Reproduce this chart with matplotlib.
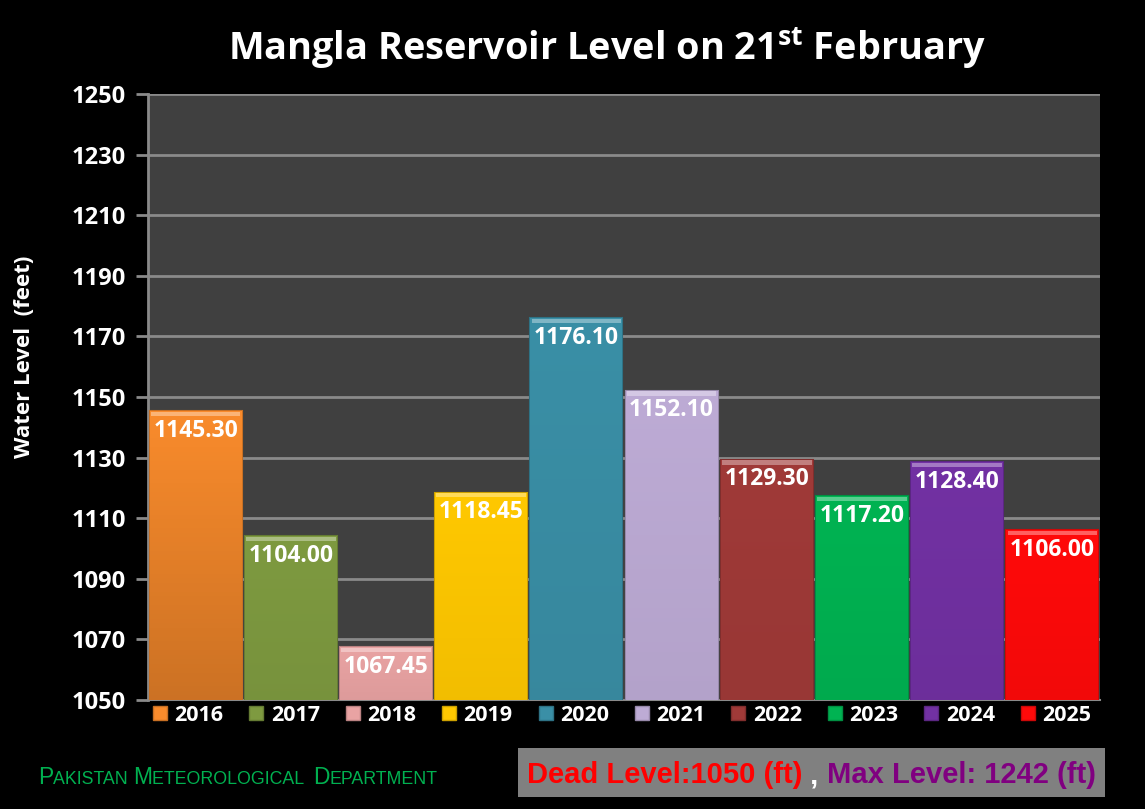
import numpy as np
import matplotlib
matplotlib.use('Agg')
import matplotlib.pyplot as plt
from matplotlib.colors import to_rgb
from matplotlib.patches import Patch, Rectangle

# data
years = ['2016', '2017', '2018', '2019', '2020', '2021', '2022', '2023', '2024', '2025']
levels = [1145.30, 1104.00, 1067.45, 1118.45, 1176.10, 1152.10, 1129.30, 1117.20, 1128.40, 1106.00]
colors = ['#F98B2C', '#7E9A40', '#E9A3A3', '#FFC800', '#3A8FA6',
          '#BDABD5', '#A03A38', '#00B352', '#7231A3', '#FF0A0A']
yticks = list(range(1050, 1251, 20))
floor = 1050

plt.rcParams['font.family'] = ['Open Sans', 'DejaVu Sans']
plt.rcParams['mathtext.fontset'] = 'custom'
plt.rcParams['mathtext.bf'] = 'Open Sans:bold'
plt.rcParams['mathtext.rm'] = 'Open Sans'


def shade(c, f):
    r = np.array(to_rgb(c))
    if f < 1:
        return tuple(r * f)
    return tuple(r + (1 - r) * (f - 1))


fig = plt.figure(figsize=(11.45, 8.09), dpi=100, facecolor='black')
ax = fig.add_axes([0.1293, 0.1347, 0.8314, 0.7491])
ax.set_facecolor('#404040')

x = np.arange(len(years))
heights = [v - floor for v in levels]
bars = ax.bar(x, heights, bottom=floor, width=0.965, color=colors, zorder=3,
              edgecolor=[shade(c, 0.8) for c in colors], linewidth=1.5)

# soft vertical gradient inside each bar (darker toward the floor)
for b, c in zip(bars, colors):
    top = np.array(to_rgb(c))
    bot = top * (0.82 if c == colors[0] else 0.95)
    t = np.linspace(0, 1, 64)[:, None]
    img = (top * (1 - t) + bot * t)[:, None, :]
    im = ax.imshow(img, extent=(b.get_x(), b.get_x() + b.get_width(), b.get_y(), b.get_y() + b.get_height()),
                   aspect='auto', zorder=3.1, origin='upper')
    im.set_clip_path(b)

# light bevel strip along the top of each bar
ax.bar(x, [1.4] * len(x), bottom=[v - 1.6 for v in levels], width=0.94,
       color=[shade(c, 1.35) for c in colors], zorder=3.2, linewidth=0)

for b, v in zip(bars, levels):
    ax.text(b.get_x() + b.get_width() / 2, v - 6.5, '%.2f' % v, ha='center', va='center',
            color='white', fontsize=16.5, fontweight='bold', zorder=4)

ax.set_xlim(-0.5, len(years) - 0.5)
ax.set_ylim(1050, 1250)
ax.set_yticks(yticks)
ax.set_xticks([])
ax.grid(axis='y', color='#8a8a8a', linewidth=2, zorder=1)
for s in ['top', 'right']:
    ax.spines[s].set_visible(False)
ax.spines['left'].set_color('#8a8a8a')
ax.spines['left'].set_linewidth(2)
ax.spines['bottom'].set_color('#8a8a8a')
ax.spines['bottom'].set_linewidth(1.5)
ax.tick_params(axis='y', colors='#8a8a8a', length=9, width=2, labelcolor='white', labelsize=17, pad=7)
for t in ax.get_yticklabels():
    t.set_fontweight('bold')

ax.set_ylabel('Water Level  (feet)', color='white', fontsize=16, fontweight='bold')
ax.yaxis.set_label_coords(-0.119, 0.566)

# legend under the plot
handles = [Patch(facecolor=c, edgecolor=shade(c, 0.8), label=y) for c, y in zip(colors, years)]
leg = ax.legend(handles=handles, ncol=10, loc='upper left', bbox_to_anchor=(0.003, -0.004, 0.99, 0.0),
                mode='expand', frameon=False, handlelength=0.65, handleheight=0.65,
                handletextpad=0.35, borderaxespad=0, borderpad=0.1, fontsize=15.5)
for t in leg.get_texts():
    t.set_color('white')
    t.set_fontweight('bold')

fig.text(0.530, 0.940, r'Mangla Reservoir Level on 21$^{\mathbf{st}}$ February', ha='center', va='center',
         color='white', fontsize=27.3, fontweight='bold')

# footer: small caps agency name
fig.canvas.draw()
renderer = fig.canvas.get_renderer()
xpos = 38 / 1145
ypos = 1 - 784 / 809
pieces = [('P', 16.5), ('AKISTAN ', 12.8), ('M', 16.5), ('ETEOROLOGICAL  ', 12.8), ('D', 16.5), ('EPARTMENT', 12.8)]
for s, fs in pieces:
    t = fig.text(xpos, ypos, s, color='#00B050', fontsize=fs, ha='left', va='baseline',
                 family='Liberation Sans')
    bb = t.get_window_extent(renderer)
    xpos += bb.width / fig.bbox.width

# dead / max level box
fig.patches.append(Rectangle((518 / 1145, 1 - 797 / 809), 587 / 1145, 49 / 809,
                             transform=fig.transFigure, facecolor='#808080', edgecolor='none'))
xpos = 527 / 1145
ypos = 1 - 783 / 809
for s, c in [('Dead Level:1050 (ft)', '#FF0000'), (' , ', 'white'), ('Max Level: 1242 (ft)', '#800080')]:
    t = fig.text(xpos, ypos, s, color=c, fontsize=21, fontweight='bold', ha='left', va='baseline',
                 family='Liberation Sans')
    bb = t.get_window_extent(renderer)
    xpos += bb.width / fig.bbox.width

fig.savefig('out.png', dpi=100, facecolor='black')
